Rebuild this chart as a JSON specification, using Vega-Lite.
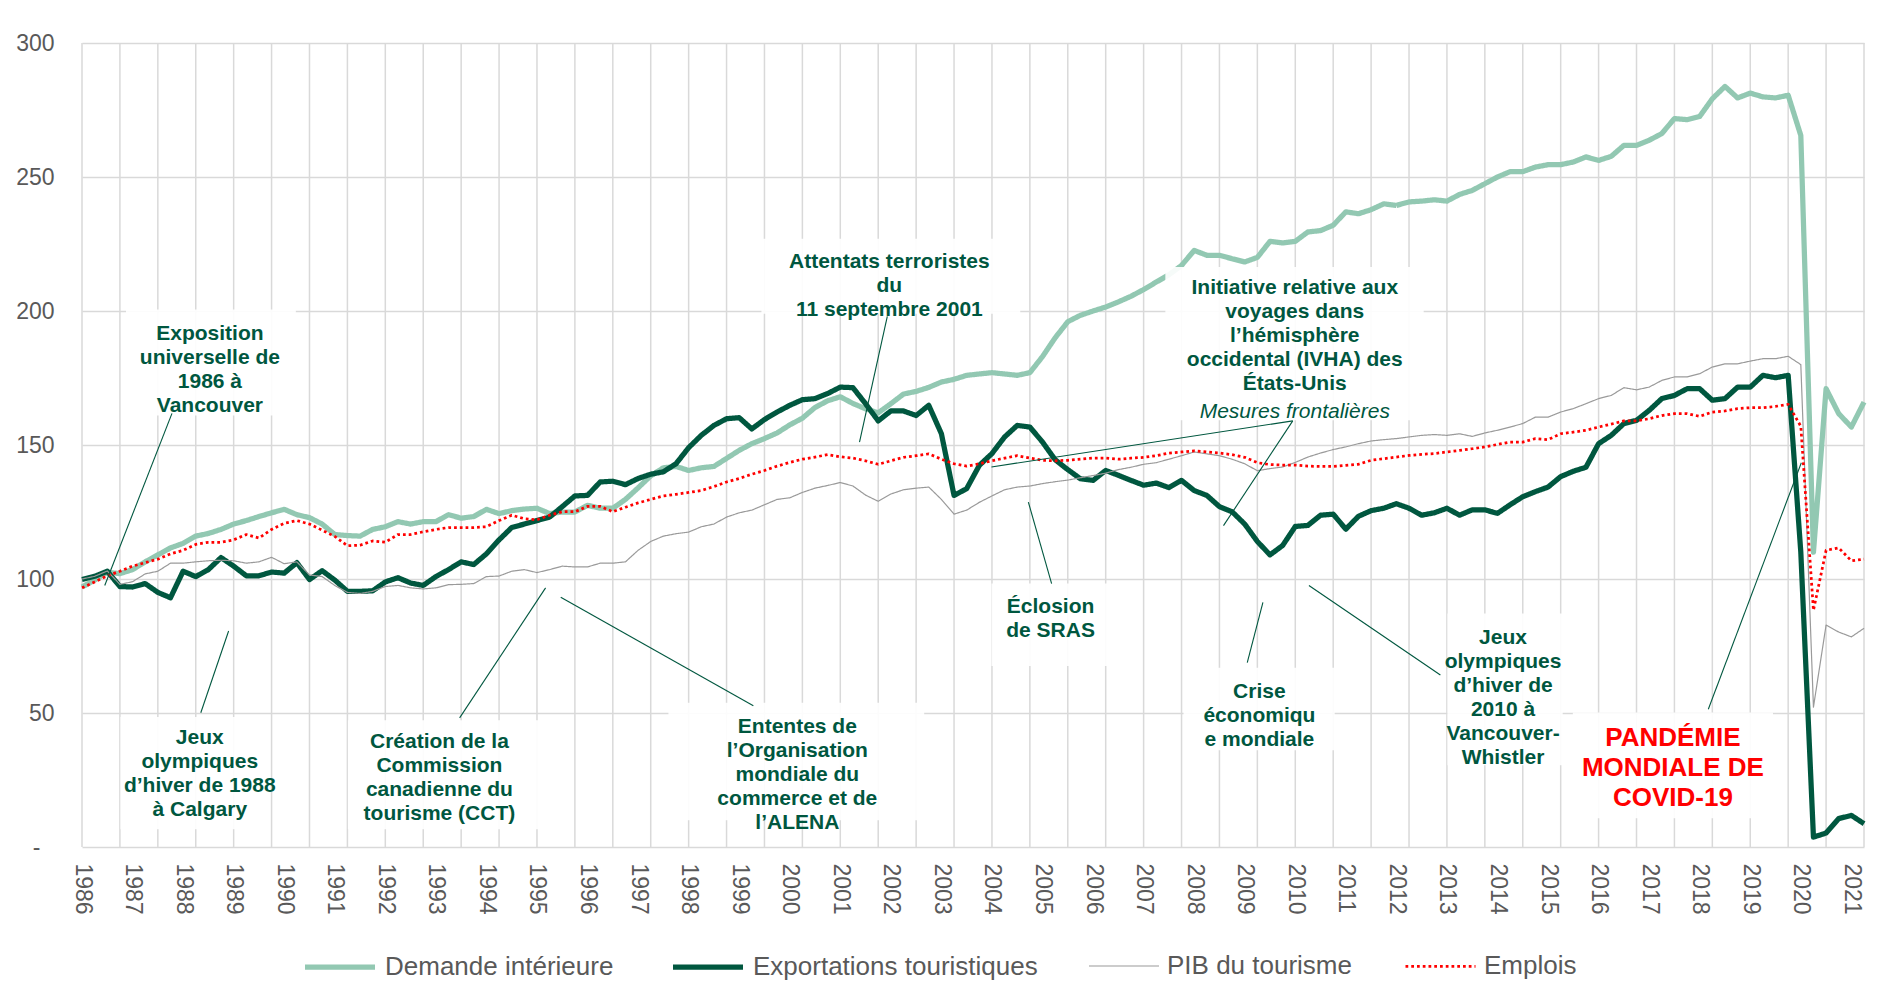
{
  "$schema": "https://vega.github.io/schema/vega-lite/v6.json",
  "width": 1782,
  "height": 804,
  "autosize": {"type": "none"},
  "padding": {"left": 82, "top": 43, "right": 19, "bottom": 153},
  "background": "white",
  "config": {"view": {"stroke": null}, "font": "Liberation Sans"},
  "layer": [
    {
      "data": {"values": [
        {"g": 1986}, {"g": 1986.75}, {"g": 1987.5}, {"g": 1988.25}, {"g": 1989}, {"g": 1989.75}, {"g": 1990.5}, {"g": 1991.25},
        {"g": 1992}, {"g": 1992.75}, {"g": 1993.5}, {"g": 1994.25}, {"g": 1995}, {"g": 1995.75}, {"g": 1996.5}, {"g": 1997.25},
        {"g": 1998}, {"g": 1998.75}, {"g": 1999.5}, {"g": 2000.25}, {"g": 2001}, {"g": 2001.75}, {"g": 2002.5}, {"g": 2003.25},
        {"g": 2004}, {"g": 2004.75}, {"g": 2005.5}, {"g": 2006.25}, {"g": 2007}, {"g": 2007.75}, {"g": 2008.5}, {"g": 2009.25},
        {"g": 2010}, {"g": 2010.75}, {"g": 2011.5}, {"g": 2012.25}, {"g": 2013}, {"g": 2013.75}, {"g": 2014.5}, {"g": 2015.25},
        {"g": 2016}, {"g": 2016.75}, {"g": 2017.5}, {"g": 2018.25}, {"g": 2019}, {"g": 2019.75}, {"g": 2020.5}, {"g": 2021.25}
      ]},
      "mark": {"type": "rule", "color": "#d9d9d9", "strokeWidth": 1.5},
      "encoding": {
        "x": {"field": "g", "type": "quantitative", "title": null, "scale": {"domain": [1986, 2021.25], "nice": false, "zero": false}}
      }
    },
    {
      "data": {"values": [
        {"t":1986,"D":97,"E":99.8,"P":100,"J":96.7},
        {"t":1986.25,"D":99.6,"E":101,"P":101,"J":98.9},
        {"t":1986.5,"D":102.5,"E":102.9,"P":103,"J":101.2},
        {"t":1986.75,"D":102,"E":97.2,"P":98,"J":102.9},
        {"t":1987,"D":103.5,"E":97,"P":99,"J":104.8},
        {"t":1987.25,"D":106.4,"E":98.3,"P":101.9,"J":106.1},
        {"t":1987.5,"D":109,"E":95,"P":102.9,"J":107.4},
        {"t":1987.75,"D":111.6,"E":93,"P":105.9,"J":109.4},
        {"t":1988,"D":113.3,"E":102.9,"P":105.9,"J":110.7},
        {"t":1988.25,"D":116,"E":100.9,"P":106.4,"J":112.9},
        {"t":1988.5,"D":117,"E":103.5,"P":106.8,"J":113.7},
        {"t":1988.75,"D":118.5,"E":108,"P":107,"J":113.7},
        {"t":1989,"D":120.5,"E":104.8,"P":106.8,"J":114.6},
        {"t":1989.25,"D":121.8,"E":101.2,"P":105.9,"J":116.6},
        {"t":1989.5,"D":123.3,"E":101.2,"P":106.4,"J":115.3},
        {"t":1989.75,"D":124.7,"E":102.6,"P":108.1,"J":118.5},
        {"t":1990,"D":126,"E":102.2,"P":105.7,"J":120.8},
        {"t":1990.25,"D":124,"E":106.1,"P":106.4,"J":121.8},
        {"t":1990.5,"D":122.9,"E":99.8,"P":101.5,"J":120.5},
        {"t":1990.75,"D":120.5,"E":103.1,"P":100.9,"J":118.2},
        {"t":1991,"D":116.6,"E":99.6,"P":97.6,"J":115.9},
        {"t":1991.25,"D":116.2,"E":95.4,"P":95,"J":112.4},
        {"t":1991.5,"D":116,"E":95.4,"P":94.6,"J":112.6},
        {"t":1991.75,"D":118.5,"E":95.6,"P":95.4,"J":114.2},
        {"t":1992,"D":119.5,"E":98.9,"P":97.2,"J":113.7},
        {"t":1992.25,"D":121.4,"E":100.5,"P":97.6,"J":116.6},
        {"t":1992.5,"D":120.5,"E":98.5,"P":96.7,"J":116.6},
        {"t":1992.75,"D":121.4,"E":97.6,"P":96.3,"J":117.6},
        {"t":1993,"D":121.4,"E":100.9,"P":96.7,"J":118.5},
        {"t":1993.25,"D":124,"E":103.5,"P":97.9,"J":119.2},
        {"t":1993.5,"D":122.7,"E":106.4,"P":98,"J":119.2},
        {"t":1993.75,"D":123.3,"E":105.4,"P":98.3,"J":119.2},
        {"t":1994,"D":126,"E":109.4,"P":100.9,"J":119.5},
        {"t":1994.25,"D":124.4,"E":114.6,"P":101.1,"J":121.8},
        {"t":1994.5,"D":125.5,"E":119.2,"P":102.9,"J":123.8},
        {"t":1994.75,"D":126.1,"E":120.5,"P":103.5,"J":122.5},
        {"t":1995,"D":126.4,"E":121.8,"P":102.4,"J":122.1},
        {"t":1995.25,"D":124.4,"E":123.1,"P":103.5,"J":123.8},
        {"t":1995.5,"D":125,"E":127,"P":104.8,"J":125.1},
        {"t":1995.75,"D":125,"E":131,"P":104.5,"J":125.1},
        {"t":1996,"D":127.5,"E":131.2,"P":104.5,"J":127.1},
        {"t":1996.25,"D":126.4,"E":136.2,"P":105.9,"J":127.1},
        {"t":1996.5,"D":126.4,"E":136.5,"P":105.9,"J":125.1},
        {"t":1996.75,"D":129.7,"E":135.2,"P":106.4,"J":126.8},
        {"t":1997,"D":134,"E":137.5,"P":110.7,"J":128.4},
        {"t":1997.25,"D":138.5,"E":139.1,"P":114,"J":129.7},
        {"t":1997.5,"D":141.5,"E":140,"P":116,"J":131},
        {"t":1997.75,"D":142,"E":143,"P":116.9,"J":131.6},
        {"t":1998,"D":140.5,"E":149,"P":117.5,"J":132.3},
        {"t":1998.25,"D":141.5,"E":153.6,"P":119.5,"J":133},
        {"t":1998.5,"D":142,"E":157.3,"P":120.5,"J":134.5},
        {"t":1998.75,"D":145,"E":159.8,"P":123.1,"J":136.2},
        {"t":1999,"D":148,"E":160.2,"P":124.7,"J":137.5},
        {"t":1999.25,"D":150.5,"E":156,"P":125.7,"J":139.1},
        {"t":1999.5,"D":152.4,"E":159.5,"P":127.7,"J":140.5},
        {"t":1999.75,"D":154.5,"E":162.3,"P":129.7,"J":142.1},
        {"t":2000,"D":157.5,"E":164.8,"P":130.3,"J":143.5},
        {"t":2000.25,"D":160,"E":166.9,"P":132.3,"J":144.7},
        {"t":2000.5,"D":164,"E":167.3,"P":133.9,"J":145.5},
        {"t":2000.75,"D":166.5,"E":169.2,"P":134.9,"J":146.4},
        {"t":2001,"D":168,"E":171.6,"P":136,"J":145.6},
        {"t":2001.25,"D":165.5,"E":171.4,"P":134.7,"J":145.1},
        {"t":2001.5,"D":163.5,"E":165.4,"P":131.3,"J":144.1},
        {"t":2001.75,"D":162,"E":159,"P":129,"J":142.8},
        {"t":2002,"D":165.4,"E":162.7,"P":131.7,"J":144.1},
        {"t":2002.25,"D":169,"E":162.7,"P":133.3,"J":145.4},
        {"t":2002.5,"D":170,"E":161,"P":133.9,"J":146},
        {"t":2002.75,"D":171.5,"E":164.8,"P":134.3,"J":146.7},
        {"t":2003,"D":173.5,"E":154.2,"P":129.7,"J":144.7},
        {"t":2003.25,"D":174.5,"E":131.2,"P":124.2,"J":143},
        {"t":2003.5,"D":176,"E":133.7,"P":125.7,"J":142.1},
        {"t":2003.75,"D":176.5,"E":142.4,"P":128.6,"J":143},
        {"t":2004,"D":177,"E":146.8,"P":131,"J":144.1},
        {"t":2004.25,"D":176.5,"E":153,"P":133.3,"J":145.1},
        {"t":2004.5,"D":176,"E":157.3,"P":134.3,"J":146},
        {"t":2004.75,"D":177,"E":156.7,"P":134.7,"J":145.1},
        {"t":2005,"D":183,"E":151.1,"P":135.6,"J":144.3},
        {"t":2005.25,"D":190,"E":144.5,"P":136.3,"J":144.1},
        {"t":2005.5,"D":196,"E":140.8,"P":136.9,"J":144.3},
        {"t":2005.75,"D":198.4,"E":137.4,"P":137.8,"J":144.7},
        {"t":2006,"D":200,"E":136.8,"P":138.6,"J":145.1},
        {"t":2006.25,"D":201.5,"E":140.5,"P":139.5,"J":145.1},
        {"t":2006.5,"D":203.4,"E":138.7,"P":140.8,"J":144.7},
        {"t":2006.75,"D":205.5,"E":136.8,"P":141.7,"J":145.1},
        {"t":2007,"D":208,"E":135,"P":142.8,"J":145.4},
        {"t":2007.25,"D":210.8,"E":135.8,"P":143.4,"J":146},
        {"t":2007.5,"D":213.5,"E":134.1,"P":144.7,"J":147},
        {"t":2007.75,"D":217,"E":136.8,"P":146,"J":147.4},
        {"t":2008,"D":222.6,"E":133,"P":147.4,"J":147.8},
        {"t":2008.25,"D":220.8,"E":131.2,"P":146.7,"J":147.4},
        {"t":2008.5,"D":220.8,"E":127,"P":146,"J":147},
        {"t":2008.75,"D":219.5,"E":125.1,"P":144.7,"J":146.4},
        {"t":2009,"D":218.3,"E":120.5,"P":143,"J":145.4},
        {"t":2009.25,"D":220,"E":114,"P":140.4,"J":143.4},
        {"t":2009.5,"D":226,"E":109,"P":141.2,"J":142.7},
        {"t":2009.75,"D":225.4,"E":112.5,"P":141.8,"J":142.5},
        {"t":2010,"D":226,"E":119.6,"P":143.5,"J":142.5},
        {"t":2010.25,"D":229.5,"E":120,"P":145.5,"J":142.1},
        {"t":2010.5,"D":230,"E":123.8,"P":147,"J":142},
        {"t":2010.75,"D":232,"E":124.2,"P":148.3,"J":142},
        {"t":2011,"D":237,"E":118.6,"P":149.3,"J":142.4},
        {"t":2011.25,"D":236.3,"E":123.4,"P":150.5,"J":142.8},
        {"t":2011.5,"D":237.8,"E":125.5,"P":151.5,"J":144.3},
        {"t":2011.75,"D":240,"E":126.4,"P":152,"J":144.9},
        {"t":2012,"D":239.4,"E":128.1,"P":152.4,"J":145.5},
        {"t":2012.25,"D":240.7,"E":126.4,"P":153,"J":146.1},
        {"t":2012.5,"D":241,"E":123.8,"P":153.6,"J":146.5},
        {"t":2012.75,"D":241.5,"E":124.7,"P":153.9,"J":146.8},
        {"t":2013,"D":241,"E":126.4,"P":153.6,"J":147.4},
        {"t":2013.25,"D":243.5,"E":123.8,"P":154.2,"J":148},
        {"t":2013.5,"D":245,"E":125.8,"P":153.2,"J":148.6},
        {"t":2013.75,"D":247.5,"E":125.8,"P":154.5,"J":149.3},
        {"t":2014,"D":250,"E":124.5,"P":155.5,"J":150.2},
        {"t":2014.25,"D":252,"E":127.7,"P":156.7,"J":151.1},
        {"t":2014.5,"D":252,"E":130.7,"P":158,"J":151.1},
        {"t":2014.75,"D":253.7,"E":132.6,"P":160.4,"J":152.4},
        {"t":2015,"D":254.6,"E":134.3,"P":160.4,"J":152},
        {"t":2015.25,"D":254.6,"E":138.2,"P":162.3,"J":154.2},
        {"t":2015.5,"D":255.6,"E":140.2,"P":163.6,"J":154.8},
        {"t":2015.75,"D":257.5,"E":141.7,"P":165.4,"J":155.5},
        {"t":2016,"D":256.2,"E":150.5,"P":167.3,"J":156.7},
        {"t":2016.25,"D":257.7,"E":153.6,"P":168.5,"J":157.8},
        {"t":2016.5,"D":261.8,"E":158,"P":171.4,"J":159},
        {"t":2016.75,"D":261.8,"E":159.2,"P":170.6,"J":159},
        {"t":2017,"D":263.7,"E":162.9,"P":171.6,"J":159.8},
        {"t":2017.25,"D":266.2,"E":167.3,"P":174.1,"J":161},
        {"t":2017.5,"D":271.8,"E":168.5,"P":175.4,"J":161.7},
        {"t":2017.75,"D":271.4,"E":171,"P":175.4,"J":161.7},
        {"t":2018,"D":272.6,"E":171,"P":176.6,"J":160.7},
        {"t":2018.25,"D":279.2,"E":166.7,"P":179.1,"J":162.3},
        {"t":2018.5,"D":283.8,"E":167.3,"P":180.3,"J":162.7},
        {"t":2018.75,"D":279.5,"E":171.6,"P":180.3,"J":163.6},
        {"t":2019,"D":281.3,"E":171.6,"P":181.3,"J":163.9},
        {"t":2019.25,"D":279.9,"E":176,"P":182.2,"J":163.9},
        {"t":2019.5,"D":279.5,"E":175.1,"P":182.2,"J":164.4},
        {"t":2019.75,"D":280.5,"E":176,"P":183.1,"J":165.2},
        {"t":2020,"D":265.5,"E":110,"P":180,"J":157},
        {"t":2020.25,"D":110,"E":3.7,"P":52.2,"J":88.3},
        {"t":2020.5,"D":171,"E":5.2,"P":82.8,"J":110.7},
        {"t":2020.75,"D":161.7,"E":10.6,"P":80.2,"J":111.6},
        {"t":2021,"D":156.7,"E":11.8,"P":78.4,"J":106.8},
        {"t":2021.25,"D":166,"E":8.7,"P":81.6,"J":107.4}
      ]},
      "transform": [{"fold": ["D", "E", "P", "J"], "as": ["s", "v"]}],
      "mark": {"type": "line", "strokeCap": "butt", "strokeJoin": "round"},
      "encoding": {
        "x": {
          "field": "t", "type": "quantitative", "title": null,
          "scale": {"domain": [1986, 2021.25], "nice": false, "zero": false},
          "axis": {
            "values": [1986, 1987, 1988, 1989, 1990, 1991, 1992, 1993, 1994, 1995, 1996, 1997, 1998, 1999, 2000, 2001, 2002, 2003, 2004, 2005, 2006, 2007, 2008, 2009, 2010, 2011, 2012, 2013, 2014, 2015, 2016, 2017, 2018, 2019, 2020, 2021],
            "format": "d",
            "labelAngle": 90, "labelAlign": "left", "labelBaseline": "middle",
            "labelFont": "Liberation Sans", "labelFontSize": 23, "labelColor": "#595959",
            "labelPadding": 16, "ticks": false, "tickSize": 0, "domain": false,
            "labelOverlap": false, "labelFlush": false, "labelBound": false,
            "grid": false
          }
        },
        "y": {
          "field": "v", "type": "quantitative", "title": null,
          "scale": {"domain": [0, 300], "nice": false},
          "axis": {
            "values": [0, 50, 100, 150, 200, 250, 300],
            "labelExpr": "datum.value == 0 ? '-' : datum.label",
            "labelFont": "Liberation Sans", "labelFontSize": 23, "labelColor": "#595959",
            "labelPadding": {"condition": {"test": "datum.value == 0", "value": 42}, "value": 28},
            "ticks": false, "tickSize": 0, "domain": false,
            "grid": true, "gridColor": "#d9d9d9", "gridWidth": 1.5
          }
        },
        "color": {
          "field": "s", "type": "nominal",
          "scale": {"domain": ["D", "E", "P", "J"], "range": ["#92c8b2", "#00573f", "#9a9a9a", "#ff0000"]},
          "legend": {
            "orient": "none", "legendX": 220, "legendY": 886, "direction": "horizontal",
            "title": null, "symbolType": "stroke", "symbolSize": 4900, "labelFont": "Liberation Sans",
            "labelFontSize": 26, "labelColor": "#595959", "labelOffset": 7, "columnPadding": 48,
            "labelLimit": 0, "padding": 0,
            "labelExpr": "{'D': 'Demande intérieure', 'E': 'Exportations touristiques', 'P': 'PIB du tourisme', 'J': 'Emplois'}[datum.label]"
          }
        },
        "strokeWidth": {
          "field": "s", "type": "nominal",
          "scale": {"type": "ordinal", "domain": ["D", "E", "P", "J"], "range": [5.25, 5.25, 1.2, 2.75]},
          "legend": {
            "orient": "none", "legendX": 220, "legendY": 886, "direction": "horizontal",
            "title": null, "symbolType": "stroke", "symbolSize": 4900, "labelFont": "Liberation Sans",
            "labelFontSize": 26, "labelColor": "#595959", "labelOffset": 7, "columnPadding": 48,
            "labelLimit": 0, "padding": 0,
            "labelExpr": "{'D': 'Demande intérieure', 'E': 'Exportations touristiques', 'P': 'PIB du tourisme', 'J': 'Emplois'}[datum.label]"
          }
        },
        "strokeDash": {
          "field": "s", "type": "nominal",
          "scale": {"domain": ["D", "E", "P", "J"], "range": [[1, 0], [1, 0], [1, 0], [2.75, 3]]},
          "legend": {
            "orient": "none", "legendX": 220, "legendY": 886, "direction": "horizontal",
            "title": null, "symbolType": "stroke", "symbolSize": 4900, "labelFont": "Liberation Sans",
            "labelFontSize": 26, "labelColor": "#595959", "labelOffset": 7, "columnPadding": 48,
            "labelLimit": 0, "padding": 0,
            "labelExpr": "{'D': 'Demande intérieure', 'E': 'Exportations touristiques', 'P': 'PIB du tourisme', 'J': 'Emplois'}[datum.label]"
          }
        }
      }
    },
    {
      "data": {"values": [
        {"t1": 1986.87, "t2": 1990.23, "v1": 161, "v2": 200.6},
        {"t1": 1986.76, "t2": 1989.72, "v1": 6.6, "v2": 48.5},
        {"t1": 1991.26, "t2": 1995.02, "v1": 6.6, "v2": 47.3},
        {"t1": 1997.6, "t2": 2002.66, "v1": 10, "v2": 53.8},
        {"t1": 1999.44, "t2": 2004.56, "v1": 199, "v2": 227},
        {"t1": 2007.43, "t2": 2012.54, "v1": 159.2, "v2": 216.4},
        {"t1": 2003.99, "t2": 2006.28, "v1": 67.5, "v2": 98.3},
        {"t1": 2007.79, "t2": 2010.78, "v1": 36.1, "v2": 66.9},
        {"t1": 2013.01, "t2": 2015.29, "v1": 30.5, "v2": 87.1},
        {"t1": 2015.49, "t2": 2019.45, "v1": 10.7, "v2": 50.2}
      ]},
      "mark": {"type": "rect", "fill": "white", "opacity": 0.92},
      "encoding": {
        "x": {"field": "t1", "type": "quantitative", "title": null, "scale": {"domain": [1986, 2021.25], "nice": false, "zero": false}},
        "x2": {"field": "t2"},
        "y": {"field": "v1", "type": "quantitative", "title": null, "scale": {"domain": [0, 300], "nice": false}},
        "y2": {"field": "v2"}
      }
    },
    {
      "data": {"values": [
        {"t1": 1987.78, "v1": 161.8, "t2": 1986.45, "v2": 97.6},
        {"t1": 1988.35, "v1": 50.1, "t2": 1988.9, "v2": 80.6},
        {"t1": 1993.47, "v1": 48.2, "t2": 1995.17, "v2": 96.7},
        {"t1": 1999.28, "v1": 52.7, "t2": 1995.47, "v2": 93.2},
        {"t1": 2001.93, "v1": 198, "t2": 2001.38, "v2": 151.1},
        {"t1": 2009.95, "v1": 159, "t2": 2003.99, "v2": 141.8},
        {"t1": 2009.95, "v1": 159, "t2": 2008.58, "v2": 119.9},
        {"t1": 2005.18, "v1": 98.3, "t2": 2004.72, "v2": 128.7},
        {"t1": 2009.05, "v1": 68.8, "t2": 2009.36, "v2": 91.3},
        {"t1": 2012.87, "v1": 64.2, "t2": 2010.27, "v2": 97.6},
        {"t1": 2018.17, "v1": 51.4, "t2": 2020.01, "v2": 143.4}
      ]},
      "mark": {"type": "rule", "color": "#00573f", "strokeWidth": 1.1},
      "encoding": {
        "x": {"field": "t1", "type": "quantitative", "title": null, "scale": {"domain": [1986, 2021.25], "nice": false, "zero": false}},
        "x2": {"field": "t2"},
        "y": {"field": "v1", "type": "quantitative", "title": null, "scale": {"domain": [0, 300], "nice": false}},
        "y2": {"field": "v2"}
      }
    },
    {
      "data": {"values": [
        {"t": 1988.53, "v": 191.3, "lines": ["Exposition", "universelle de", "1986 à", "Vancouver"]},
        {"t": 1988.33, "v": 40.7, "lines": ["Jeux", "olympiques", "d’hiver de 1988", "à Calgary"]},
        {"t": 1993.07, "v": 39, "lines": ["Création de la", "Commission", "canadienne du", "tourisme (CCT)"]},
        {"t": 2000.15, "v": 44.6, "lines": ["Ententes de", "l’Organisation", "mondiale du", "commerce et de", "l’ALENA"]},
        {"t": 2001.97, "v": 218.3, "lines": ["Attentats terroristes", "du", "11 septembre 2001"]},
        {"t": 2009.99, "v": 208.4, "lines": ["Initiative relative aux", "voyages dans", "l’hémisphère", "occidental (IVHA) des", "États-Unis"]},
        {"t": 2005.16, "v": 89.4, "lines": ["Éclosion", "de SRAS"]},
        {"t": 2009.29, "v": 57.7, "lines": ["Crise", "économiqu", "e mondiale"]},
        {"t": 2014.11, "v": 78, "lines": ["Jeux", "olympiques", "d’hiver de", "2010 à", "Vancouver-", "Whistler"]}
      ]},
      "mark": {"type": "text", "font": "Liberation Sans", "fontWeight": "bold", "fontSize": 21, "color": "#00573f", "align": "center", "baseline": "middle", "lineHeight": 24},
      "encoding": {
        "x": {"field": "t", "type": "quantitative", "title": null, "scale": {"domain": [1986, 2021.25], "nice": false, "zero": false}},
        "y": {"field": "v", "type": "quantitative", "title": null, "scale": {"domain": [0, 300], "nice": false}},
        "text": {"field": "lines", "type": "nominal"}
      }
    },
    {
      "data": {"values": [
        {"t": 2009.99, "v": 162.3, "label": "Mesures frontalières"}
      ]},
      "mark": {"type": "text", "font": "Liberation Sans", "fontStyle": "italic", "fontSize": 21, "color": "#00573f", "align": "center", "baseline": "middle"},
      "encoding": {
        "x": {"field": "t", "type": "quantitative", "title": null, "scale": {"domain": [1986, 2021.25], "nice": false, "zero": false}},
        "y": {"field": "v", "type": "quantitative", "title": null, "scale": {"domain": [0, 300], "nice": false}},
        "text": {"field": "label", "type": "nominal"}
      }
    },
    {
      "data": {"values": [
        {"t": 2017.47, "v": 40.7, "lines": ["PANDÉMIE", "MONDIALE DE", "COVID-19"]}
      ]},
      "mark": {"type": "text", "font": "Liberation Sans", "fontWeight": "bold", "fontSize": 26, "color": "#ff0000", "align": "center", "baseline": "middle", "lineHeight": 30},
      "encoding": {
        "x": {"field": "t", "type": "quantitative", "title": null, "scale": {"domain": [1986, 2021.25], "nice": false, "zero": false}},
        "y": {"field": "v", "type": "quantitative", "title": null, "scale": {"domain": [0, 300], "nice": false}},
        "text": {"field": "lines", "type": "nominal"}
      }
    }
  ]
}
